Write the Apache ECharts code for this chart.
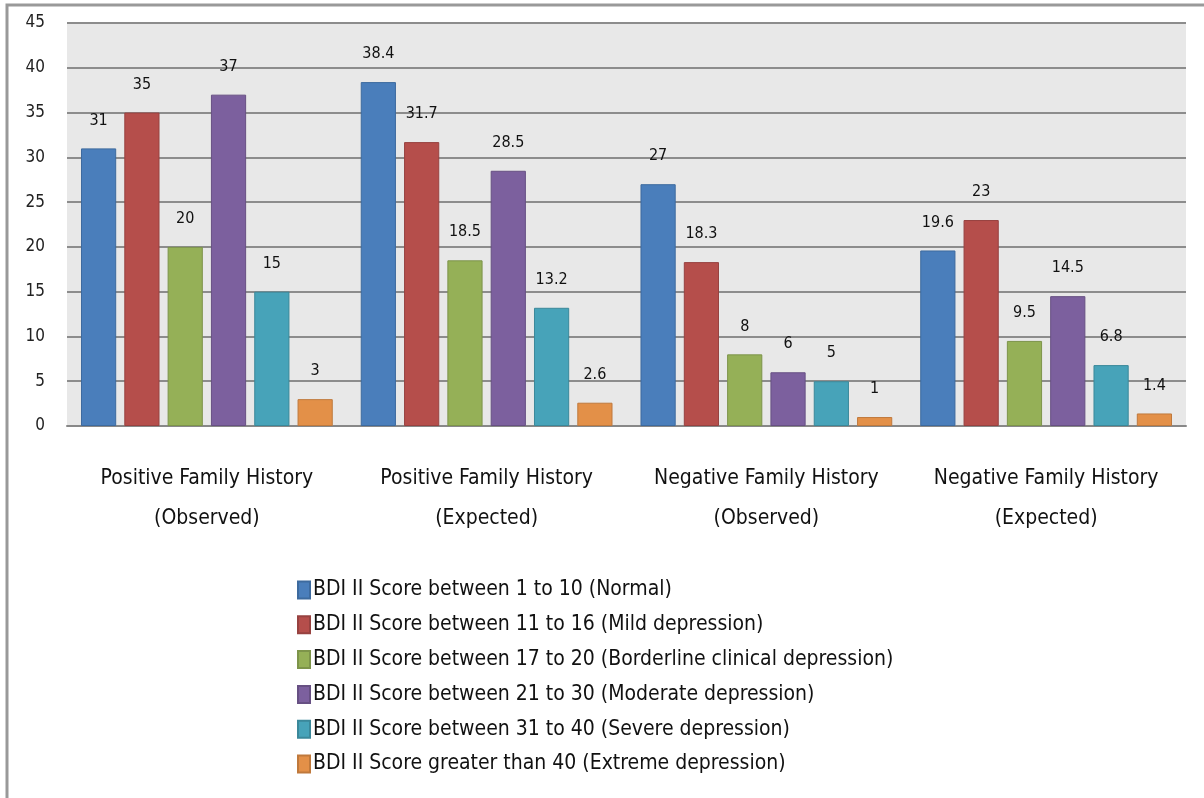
<!DOCTYPE html>
<html>
<head>
<meta charset="utf-8">
<script src="https://cdn.jsdelivr.net/npm/echarts@6/dist/echarts.min.js"></script>
<style>
html,body{margin:0;padding:0;background:#fff;}
#chart{width:1204px;height:798px;}
</style>
</head>
<body>
<div id="chart"></div>
<script>
const categories = ['Positive Family History\n(Observed)', 'Positive Family History\n(Expected)', 'Negative Family History\n(Observed)', 'Negative Family History\n(Expected)'];
const seriesNames = [
  'BDI II Score between 1 to 10 (Normal)',
  'BDI II Score between 11 to 16 (Mild depression)',
  'BDI II Score between 17 to 20 (Borderline clinical depression)',
  'BDI II Score between 21 to 30 (Moderate depression)',
  'BDI II Score between 31 to 40 (Severe depression)',
  'BDI II Score greater than 40 (Extreme depression)'
];
const normal = [31, 38.4, 27, 19.6];
const mild = [35, 31.7, 18.3, 23];
const borderline = [20, 18.5, 8, 9.5];
const moderate = [37, 28.5, 6, 14.5];
const severe = [15, 13.2, 5, 6.8];
const extreme = [3, 2.6, 1, 1.4];
const yTicks = [0, 5, 10, 15, 20, 25, 30, 35, 40, 45];

const colors = ['#4a7ebb', '#b54e4b', '#95b057', '#7c609e', '#47a3b9', '#e39048'];
const borders = ['#3d6a9e', '#974240', '#7d944a', '#675083', '#3b889a', '#bf793c'];
const allData = [normal, mild, borderline, moderate, severe, extreme];
const FONT = '"Liberation Sans Narrow", "DejaVu Sans Condensed", sans-serif';

const chart = echarts.init(document.getElementById('chart'));
chart.setOption({
  animation: false,
  backgroundColor: '#fff',
  graphic: [{
    type: 'rect', z: 100, silent: true,
    shape: { x: 7, y: 5, width: 1220, height: 820 },
    style: { fill: 'none', stroke: '#999', lineWidth: 3 }
  }],
  grid: {
    left: 67, right: 18, top: 23, bottom: 372,
    show: true, backgroundColor: '#e8e8e8', borderWidth: 0
  },
  legend: {
    orient: 'vertical',
    left: 292, top: 574,
    itemWidth: 12, itemHeight: 17,
    itemGap: 12.8,
    icon: 'rect',
    data: seriesNames,
    textStyle: { fontFamily: FONT, fontSize: 21, lineHeight: 22, color: '#111', padding: [0, 0, 0, -2] }
  },
  xAxis: {
    type: 'category',
    data: categories,
    axisLine: { lineStyle: { color: '#888', width: 2 } },
    axisTick: { show: false },
    axisLabel: { fontFamily: FONT, fontSize: 21, color: '#111', lineHeight: 40, margin: 33, interval: 0 }
  },
  yAxis: {
    type: 'value',
    min: 0, max: 45, interval: 5,
    axisLine: { show: false },
    axisTick: { show: false },
    axisLabel: { fontFamily: FONT, fontSize: 17, color: '#222', margin: 22,
      formatter: v => yTicks.includes(v) ? String(v) : '' },
    splitLine: { lineStyle: { color: '#8c8c8c', width: 2 } }
  },
  series: allData.map((d, i) => ({
    name: seriesNames[i],
    type: 'bar',
    data: d,
    barGap: '23%',
    barCategoryGap: '10%',
    itemStyle: { color: colors[i], borderColor: borders[i], borderWidth: 1 },
    label: { show: true, position: 'top', distance: 20, fontFamily: FONT, fontSize: 16, color: '#111' }
  }))
});
</script>
</body>
</html>
